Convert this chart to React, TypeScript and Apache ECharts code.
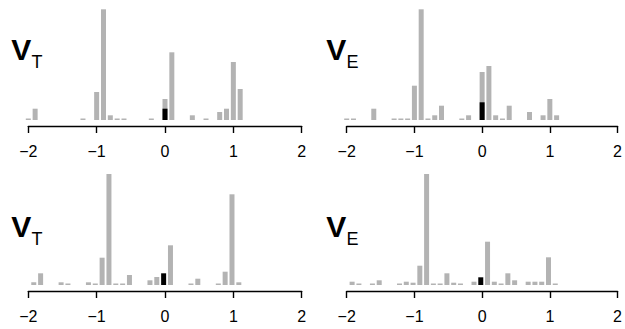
import React, { useEffect, useRef } from "react";
import * as echarts from "echarts";

// Tick labels for every x axis (values -2..2)
const tickValues = [-2, -1, 0, 1, 2];
const tickLabels = ["\u22122", "\u22121", "0", "1", "2"];

// Panel titles
const panelTitles = [
  { main: "V", sub: "T" },
  { main: "V", sub: "E" },
  { main: "V", sub: "T" },
  { main: "V", sub: "E" },
];

// Top-left panel (V_T)
const binsTL = [-2.0, -1.9, -1.2, -1.0, -0.9, -0.8, -0.7, -0.6, -0.2, 0.0, 0.1, 0.4, 0.6, 0.8, 0.9, 1.0, 1.1];
const freqTL = [1.5, 11.3, 1.5, 28, 110.7, 4.7, 1.5, 1.5, 1.5, 21, 67.7, 4.7, 1.5, 8, 11.3, 58, 31];
const markTL = [0.0, 11.3];

// Top-right panel (V_E)
const binsTR = [-2.0, -1.9, -1.6, -1.3, -1.2, -1.1, -1.0, -0.9, -0.8, -0.7, -0.6, -0.3, -0.2, 0.0, 0.1, 0.2, 0.3, 0.4, 0.7, 0.9, 1.0, 1.1];
const freqTR = [1.5, 1.5, 11.3, 1.5, 1.5, 1.5, 34.3, 110.7, 1.5, 4.7, 14.3, 1.5, 4.7, 48, 54, 4.7, 1.5, 14.3, 8, 4.7, 21, 4.7];
const markTR = [0.0, 17.7];

// Bottom-left panel (V_T)
const binsBL = [-1.92, -1.82, -1.52, -1.42, -1.12, -1.02, -0.92, -0.82, -0.72, -0.62, -0.52, -0.22, -0.12, 0.08, 0.38, 0.48, 0.78, 0.88, 0.98, 1.08];
const freqBL = [2.7, 11.7, 2.7, 1.5, 2.7, 1.5, 27.3, 111.7, 1.5, 1.5, 10, 4.7, 8, 39.7, 1.5, 6.3, 1.5, 13.3, 90.7, 2.7];
const markBL = [-0.02, 11.7];

// Bottom-right panel (V_E)
const binsBR = [-1.92, -1.82, -1.62, -1.52, -1.22, -1.12, -1.02, -0.92, -0.82, -0.72, -0.62, -0.52, -0.42, -0.32, -0.12, 0.08, 0.18, 0.28, 0.38, 0.48, 0.68, 0.78, 0.88, 0.98, 1.08];
const freqBR = [3.3, 1.5, 1.5, 4.7, 1.5, 3.3, 2.3, 19.3, 111.7, 1.5, 1.5, 11.7, 2.3, 1.5, 3.3, 43.3, 3.3, 1.5, 11.7, 4.7, 3.3, 3.3, 3.3, 27.7, 1.5];
const markBR = [-0.02, 7.7];

const panels = [
  { bins: binsTL, freq: freqTL, mark: markTL },
  { bins: binsTR, freq: freqTR, mark: markTR },
  { bins: binsBL, freq: freqBL, mark: markBL },
  { bins: binsBR, freq: freqBR, mark: markBR },
];

const GRAY = "#b3b3b3";
const FONT = "'Liberation Sans', Arial, sans-serif";

export default function App() {
  const ref = useRef<HTMLDivElement>(null);

  useEffect(() => {
    if (!ref.current) return;
    const chart = echarts.init(ref.current, null, { renderer: "svg" });

    const grids = [
      { left: 28.3, right: 323.3, top: 9, height: 111 },
      { left: 346.7, right: 5.7, top: 9, height: 111 },
      { left: 28.3, right: 323.3, top: 174, height: 111 },
      { left: 346.7, right: 5.7, top: 174, height: 111 },
    ];

    const xAxes = grids.map((_, i) => ({
      type: "value",
      gridIndex: i,
      min: -2,
      max: 2,
      interval: 1,
      offset: 6,
      axisLine: { show: true, onZero: false, lineStyle: { color: "#000", width: 1.4 } },
      axisTick: { show: true, length: 7, lineStyle: { color: "#000", width: 1.4 } },
      axisLabel: {
        show: true,
        color: "#000",
        fontSize: 16,
        fontFamily: FONT,
        margin: 17,
        formatter: (v: number) => {
          const k = tickValues.indexOf(Math.round(v));
          return k >= 0 ? tickLabels[k] : "";
        },
      },
      splitLine: { show: false },
    }));

    const yAxes = grids.map((_, i) => ({
      type: "value",
      gridIndex: i,
      min: 0,
      max: 111,
      show: false,
      splitLine: { show: false },
    }));

    const series: any[] = [];
    panels.forEach((p, i) => {
      series.push({
        type: "bar",
        xAxisIndex: i,
        yAxisIndex: i,
        barWidth: 5,
        barGap: "-100%",
        itemStyle: { color: GRAY },
        data: p.bins.map((b, j) => [b, p.freq[j]]),
      });
      series.push({
        type: "bar",
        xAxisIndex: i,
        yAxisIndex: i,
        barWidth: 5,
        barGap: "-100%",
        itemStyle: { color: "#000" },
        data: [[p.mark[0], p.mark[1]]],
      });
    });

    const titlePos = [
      { vx: 11.3, vy: 49.5, sx: 31.5, sy: 62 },
      { vx: 326.3, vy: 49.5, sx: 346.6, sy: 62 },
      { vx: 11.3, vy: 226, sx: 31.5, sy: 238.5 },
      { vx: 326.3, vy: 226, sx: 346.6, sy: 238.5 },
    ];

    const graphic: any[] = [];
    panelTitles.forEach((t, i) => {
      const pos = titlePos[i];
      graphic.push({
        type: "text",
        x: pos.vx,
        y: pos.vy,
        style: {
          text: t.main,
          fontSize: 30,
          fontWeight: "bold",
          fontFamily: FONT,
          fill: "#000",
          align: "left",
          verticalAlign: "middle",
        },
      });
      graphic.push({
        type: "text",
        x: pos.sx,
        y: pos.sy,
        style: {
          text: t.sub,
          fontSize: 18,
          fontFamily: FONT,
          fill: "#000",
          align: "left",
          verticalAlign: "middle",
        },
      });
    });

    chart.setOption({
      animation: false,
      backgroundColor: "#fff",
      grid: grids,
      xAxis: xAxes,
      yAxis: yAxes,
      series,
      graphic,
    });

    return () => {
      chart.dispose();
    };
  }, []);

  return (
    <div
      ref={ref}
      style={{ position: "fixed", left: 0, top: 0, width: 625, height: 329 }}
    />
  );
}
